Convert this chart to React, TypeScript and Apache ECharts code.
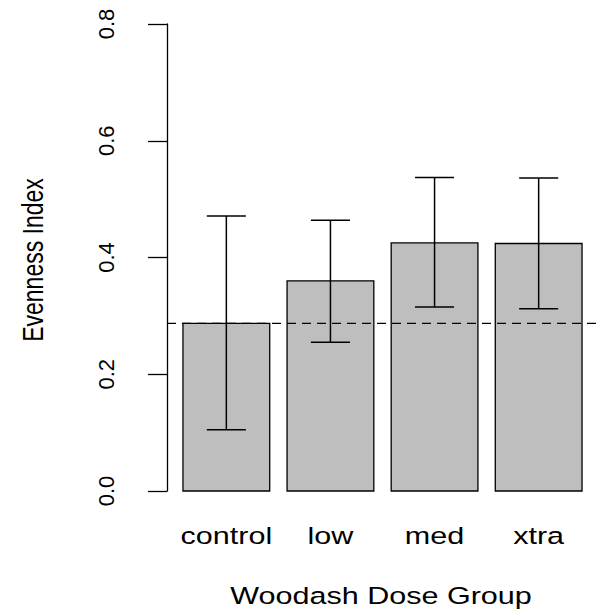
import { useEffect, useRef } from "react";
import * as echarts from "echarts";

// Group means of the evenness index with their interval bounds
const categories = ["control", "low", "med", "xtra"];
const means = [0.287, 0.36, 0.425, 0.424];
const lowerBounds = [0.105, 0.255, 0.315, 0.312];
const upperBounds = [0.471, 0.464, 0.537, 0.536];
const yTickValues = [0, 0.2, 0.4, 0.6, 0.8];
const xTitle = "Woodash Dose Group";
const yTitle = "Evenness Index";
// horizontal reference: the control group's mean
const referenceLevel = means[0];

const FONT = '"Liberation Sans", Arial, Helvetica, sans-serif';

// barplot-style layout: bars of width 1 separated by 0.2, range padded by 4%
const BAR_WIDTH = 1;
const BAR_SPACE = 0.2;
const CAP_WIDTH = 0.45;
const centers = categories.map((_, i) => BAR_SPACE + i * (BAR_WIDTH + BAR_SPACE) + BAR_WIDTH / 2);
const leftEdge = centers[0] - BAR_WIDTH / 2;
const rightEdge = centers[centers.length - 1] + BAR_WIDTH / 2;
const pad = (rightEdge - leftEdge) * 0.04;
const xMin = leftEdge - pad;
const xMax = rightEdge + pad;

export default function App() {
  const ref = useRef<HTMLDivElement>(null);

  useEffect(() => {
    document.body.style.margin = "0";
    if (!ref.current) return;
    const chart = echarts.init(ref.current, undefined, { renderer: "svg" });

    const barData = categories.map((_, i) => [centers[i], means[i]]);
    const errData = categories.map((_, i) => [centers[i], lowerBounds[i], upperBounds[i]]);

    chart.setOption({
      animation: false,
      backgroundColor: "#ffffff",
      grid: { left: 167, right: 8, top: 24, bottom: 122 },
      xAxis: {
        type: "value",
        min: xMin,
        max: xMax,
        show: false,
      },
      yAxis: {
        type: "value",
        min: yTickValues[0],
        max: yTickValues[yTickValues.length - 1],
        interval: 0.2,
        axisLine: { show: true, onZero: false, lineStyle: { color: "#000", width: 1.3 } },
        axisTick: { show: true, length: 19, lineStyle: { color: "#000", width: 1.3 } },
        splitLine: { show: false },
        axisLabel: {
          rotate: 90,
          margin: 50,
          fontSize: 22,
          fontFamily: FONT,
          color: "#000",
          formatter: (v: number) => v.toFixed(1),
        },
      },
      series: [
        {
          type: "custom",
          clip: false,
          data: barData,
          renderItem: (params: any, api: any) => {
            const x = api.value(0);
            const y = api.value(1);
            const topLeft = api.coord([x - BAR_WIDTH / 2, y]);
            const bottomRight = api.coord([x + BAR_WIDTH / 2, 0]);
            return {
              type: "group",
              children: [
                {
                  type: "rect",
                  shape: {
                    x: topLeft[0],
                    y: topLeft[1],
                    width: bottomRight[0] - topLeft[0],
                    height: bottomRight[1] - topLeft[1],
                  },
                  style: { fill: "#bebebe", stroke: "#000", lineWidth: 1.3 },
                },
                {
                  type: "text",
                  x: (topLeft[0] + bottomRight[0]) / 2,
                  y: bottomRight[1] + 45,
                  scaleX: 1.3,
                  style: {
                    text: categories[params.dataIndex],
                    fontSize: 23.5,
                    fontFamily: FONT,
                    fill: "#000",
                    align: "center",
                    verticalAlign: "middle",
                  },
                },
              ],
            };
          },
        },
        {
          type: "line",
          data: [
            [xMin, referenceLevel],
            [xMax, referenceLevel],
          ],
          showSymbol: false,
          symbol: "none",
          silent: true,
          lineStyle: { color: "#000", width: 1.3, type: [9, 6] },
        },
        {
          type: "custom",
          clip: false,
          data: errData,
          renderItem: (_params: any, api: any) => {
            const x = api.value(0);
            const lo = api.coord([x, api.value(1)]);
            const hi = api.coord([x, api.value(2)]);
            const capL = api.coord([x - CAP_WIDTH / 2, 0])[0];
            const capR = api.coord([x + CAP_WIDTH / 2, 0])[0];
            const style = { stroke: "#000", lineWidth: 1.5 };
            return {
              type: "group",
              children: [
                { type: "line", shape: { x1: lo[0], y1: lo[1], x2: hi[0], y2: hi[1] }, style },
                { type: "line", shape: { x1: capL, y1: hi[1], x2: capR, y2: hi[1] }, style },
                { type: "line", shape: { x1: capL, y1: lo[1], x2: capR, y2: lo[1] }, style },
              ],
            };
          },
        },
      ],
      graphic: [
        {
          type: "text",
          x: 381,
          y: 596,
          scaleX: 1.3,
          style: {
            text: xTitle,
            fontSize: 23.5,
            fontFamily: FONT,
            fill: "#000",
            align: "center",
            verticalAlign: "middle",
          },
        },
        {
          type: "text",
          x: 33,
          y: 260,
          rotation: Math.PI / 2,
          scaleY: 1.3,
          style: {
            text: yTitle,
            fontSize: 23,
            fontFamily: FONT,
            fill: "#000",
            align: "center",
            verticalAlign: "middle",
          },
        },
      ],
    });

    return () => chart.dispose();
  }, []);

  return <div ref={ref} style={{ width: 606, height: 613 }} />;
}
